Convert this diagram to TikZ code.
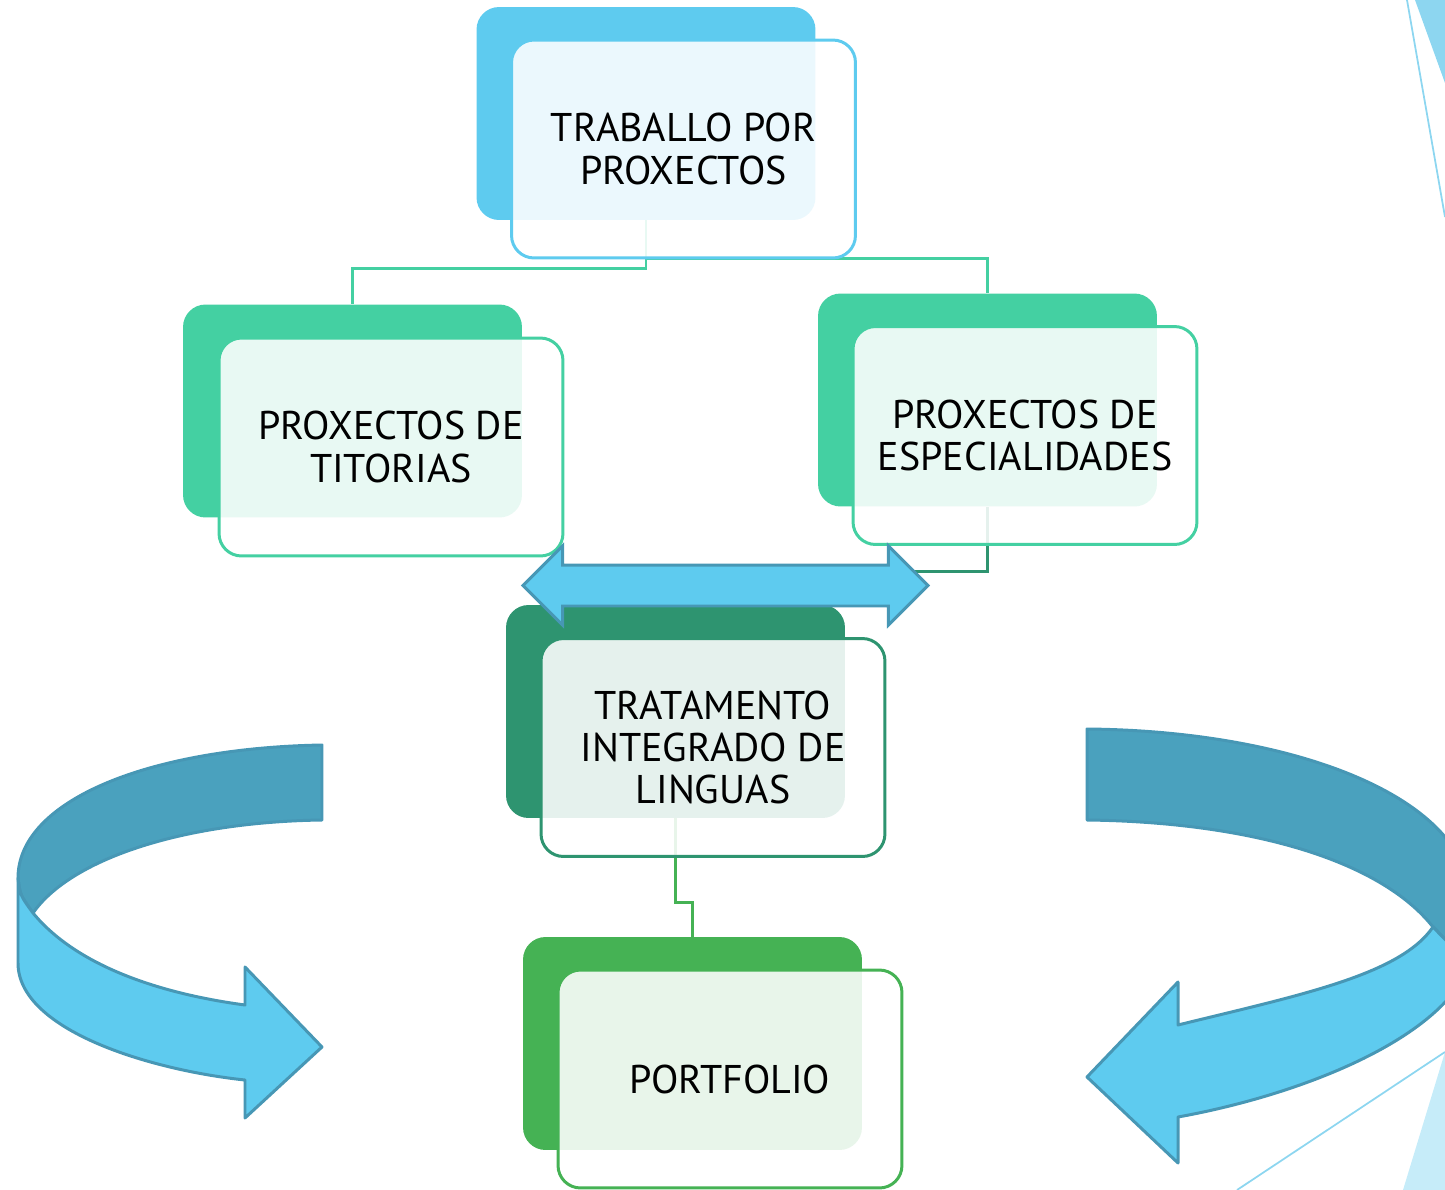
\documentclass[tikz,border=0pt]{standalone}
\usepackage{fontspec}
\setmainfont{PT Sans}
\usepackage{xcolor}
\usetikzlibrary{
    calc,
    positioning,
    shapes.arrows
}
\definecolor{skyblue}{HTML}{5ECBEF}
\definecolor{mint}{HTML}{44D0A2}
\definecolor{pine}{HTML}{2E9470}
\definecolor{leaf}{HTML}{45B254}
\definecolor{arrowedge}{HTML}{4797B5}
\definecolor{arrowdark}{HTML}{4AA1BE}
\definecolor{decoline}{HTML}{8DD6F0}
\definecolor{decopale}{HTML}{C6ECF9}

\begin{document}
\begin{tikzpicture}[x=0.02cm, y=-0.02cm,
    backbox/.style={rounded corners=0.45cm, minimum width=6.78cm, minimum height=4.26cm, inner sep=0pt},
    frontbox/.style={draw=#1, line width=1.7pt, fill=white, fill opacity=0.88, text opacity=1,
        rounded corners=0.45cm, minimum width=6.88cm, minimum height=4.36cm, inner sep=0pt,
        align=center, font=\fontsize{22.8}{24}\selectfont},
    link/.style={draw=#1, line width=1.7pt},
    ribbon/.style={draw=arrowedge, line width=1.7pt, line join=round}]

                        \useasboundingbox (0, 0) rectangle (1445, 1190);
                        \clip (0, 0) rectangle (1445, 1190);

                        % slide corners
                        \fill[decoline] (1415, 0) -- (1445, 0) -- (1445, 83) -- cycle;
                        \draw[decoline, line width=1pt] (1407, 0) -- (1445, 217);
                        \fill[decopale] (1403, 1190) -- (1445, 1052) -- (1445, 1190) -- cycle;
                        \draw[decoline, line width=1pt] (1237, 1190) -- (1445, 1052);

                        % back boxes
                        \node[backbox, fill=skyblue] (topb) at (646, 113.5) {};
                        \node[backbox, fill=mint] (titb) at (352.5, 411) {};
                        \node[backbox, fill=mint] (espb) at (987.5, 400) {};
                        \node[backbox, fill=pine] (tilb) at (675.5, 711.5) {};
                        \node[backbox, fill=leaf] (portb) at (692.5, 1043.5) {};

                        % links
                        \draw[link=mint] (topb.south) -- ++(0, 48) -| (titb.north);
                        \draw[link=mint] (topb.south) -- ++(0, 38) -| (espb.north);
                        \draw[link=pine] (espb.south) -- ++(0, 65) -| (tilb.north);
                        \draw[link=leaf] (tilb.south) -- ++(0, 84) -| (portb.north);

                        % front boxes
                        \node[frontbox=skyblue] (top) at (683.5, 149) {TRABALLO POR\\PROXECTOS};
                        \node[frontbox=mint] (tit) at (391, 447) {PROXECTOS DE\\TITORIAS};
                        \node[frontbox=mint] (esp) at (1025, 435.5) {PROXECTOS DE\\ESPECIALIDADES};
                        \node[frontbox=pine] (til) at (713, 747.5) {TRATAMENTO\\INTEGRADO DE\\LINGUAS};
                        \node[frontbox=leaf] (port) at (730, 1079) {PORTFOLIO};

                        \node[double arrow, fill=skyblue, draw=arrowedge, line width=1.7pt,
                            minimum height=8.1cm, minimum width=1.52cm, inner xsep=0pt, inner ysep=0.38cm,
                            double arrow head extend=0.38cm, double arrow tip angle=90]
                            (both) at (725.5, 585.5) {};

                        % left turn
                        \filldraw[ribbon, fill=arrowdark]
                            (322, 745) .. controls (150, 748) and (18, 800) .. (18, 878)
                            .. controls (20, 895) .. (33, 913)
                            .. controls (70, 860) and (180, 822) .. (322, 820) -- cycle;
                        \filldraw[ribbon, fill=skyblue]
                            (18, 878) -- (18, 963)
                            .. controls (18, 1030) and (150, 1070) .. (245, 1080)
                            -- (245, 1118) -- (322, 1047) -- (245, 967) -- (245, 1005)
                            .. controls (170, 995) and (80, 970) .. (33, 913)
                            .. controls (20, 895) .. (18, 878) -- cycle;

                        % right turn
                        \filldraw[ribbon, fill=arrowdark]
                            (1087, 729) .. controls (1300, 731) and (1470, 800) .. (1470, 900)
                            -- (1470, 965) -- (1433, 927)
                            .. controls (1380, 860) and (1250, 822) .. (1087, 820) -- cycle;
                        \filldraw[ribbon, fill=skyblue]
                            (1433, 927) -- (1470, 965)
                            .. controls (1440, 1040) and (1300, 1095) .. (1178, 1117)
                            -- (1178, 1163) -- (1087, 1077) -- (1178, 982) -- (1178, 1025)
                            .. controls (1300, 995) and (1400, 975) .. (1433, 927);
                    \end{tikzpicture}
\end{document}
